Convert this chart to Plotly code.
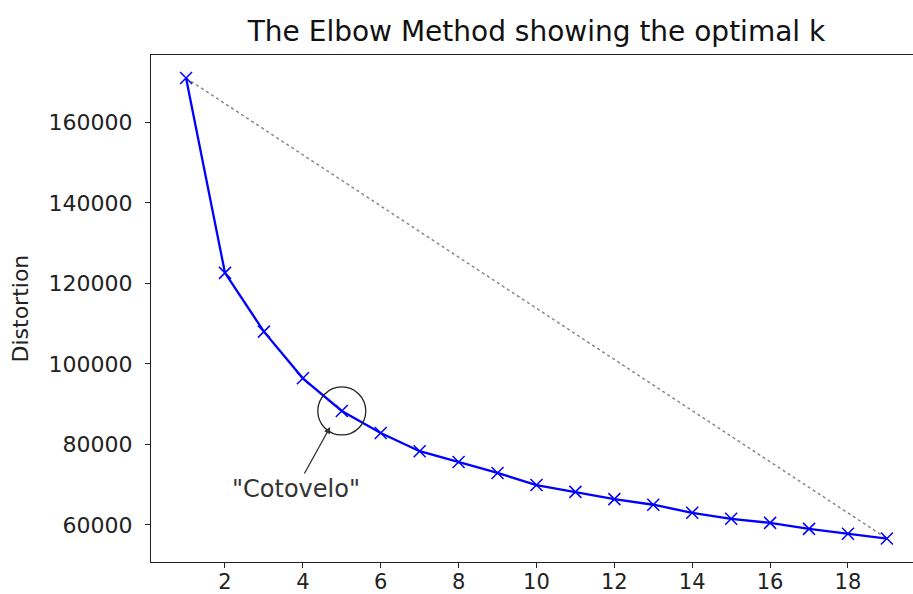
import plotly.graph_objects as go

k_values = list(range(1, 20))
distortion = [171000, 122600, 108000, 96400, 88300, 82800, 78300, 75600, 72900,
              69900, 68200, 66400, 65000, 63000, 61500, 60500, 59000, 57800, 56600]
x_ticks = [2, 4, 6, 8, 10, 12, 14, 16, 18]
y_ticks = [60000, 80000, 100000, 120000, 140000, 160000]
y_tick_labels = [str(v) for v in y_ticks]
elbow_k = 5

fig = go.Figure()
fig.add_trace(go.Scatter(
    x=[k_values[0], k_values[-1]], y=[distortion[0], distortion[-1]],
    mode="lines", line=dict(color="#888888", width=1.5, dash="dot"),
    hoverinfo="skip", showlegend=False))
fig.add_trace(go.Scatter(
    x=k_values, y=distortion, mode="lines+markers",
    line=dict(color="#0000ff", width=2.3),
    marker=dict(symbol="x-thin", size=12, line=dict(color="#0000ff", width=1.5)),
    showlegend=False))

ei = k_values.index(elbow_k)
fig.add_shape(type="circle", xref="x", yref="y",
              xsizemode="pixel", ysizemode="pixel",
              xanchor=elbow_k, yanchor=distortion[ei],
              x0=-24, x1=24, y0=-24, y1=24,
              line=dict(color="#222222", width=1.3))

fig.add_annotation(x=4.70, y=84300, xref="x", yref="y",
                   ax=3.82, ay=68900, axref="x", ayref="y",
                   text='"Cotovelo"', showarrow=True, arrowhead=2, arrowsize=1,
                   arrowwidth=1.3, arrowcolor="#333333",
                   font=dict(family="DejaVu Sans", size=24, color="#333333"))

fig.add_annotation(x=(20 - 151) / 762, y=0.5, xref="paper", yref="paper",
                   text="Distortion", textangle=-90, showarrow=False,
                   xanchor="center", yanchor="middle",
                   font=dict(family="DejaVu Sans", size=22, color="#222222"))

fig.update_layout(
    width=913, height=594,
    margin=dict(l=151, r=0, t=55, b=32),
    paper_bgcolor="white", plot_bgcolor="white",
    title=dict(text="The Elbow Method showing the optimal k", x=(151 + 922) / 2 / 913,
               xanchor="center", y=1 - 31 / 594, yanchor="middle",
               font=dict(family="DejaVu Sans", size=28, color="#111111")),
    font=dict(family="DejaVu Sans", size=21, color="#222222"),
    xaxis=dict(range=[0.1, 19.67], tickvals=x_ticks, ticks="outside", ticklen=5,
               tickfont=dict(size=21), ticklabelstandoff=-4,
               tickcolor="#222222", showgrid=False, zeroline=False, automargin=False,
               showline=True, linecolor="#222222", linewidth=1.3, mirror=True),
    yaxis=dict(range=[50775, 176725], tickvals=y_ticks, ticktext=y_tick_labels,
               ticks="outside", ticklen=5, automargin=False, ticklabelstandoff=8,
               tickfont=dict(size=22),
               tickcolor="#222222", showgrid=False, zeroline=False,
               showline=True, linecolor="#222222", linewidth=1.3),
)

fig.write_html("out.html")
